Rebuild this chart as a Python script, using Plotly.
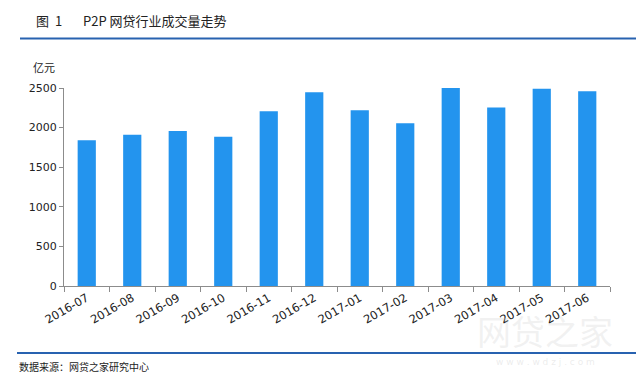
import plotly.graph_objects as go

months = ["2016-07", "2016-08", "2016-09", "2016-10", "2016-11", "2016-12",
          "2017-01", "2017-02", "2017-03", "2017-04", "2017-05", "2017-06"]
volume = [1840, 1910, 1958, 1886, 2207, 2445, 2220, 2055, 2505, 2255, 2492, 2458]
y_ticks = [0, 500, 1000, 1500, 2000, 2500]

W, H = 636, 383
L, R, T, B = 64, 26, 88, 97
pw, ph = W - L - R, H - T - B

def px(x):
    return (x - L) / pw

def py(y):
    return (H - B - y) / ph

num_font = "DejaVu Sans, Verdana, sans-serif"
cjk_font = "Noto Sans CJK SC, sans-serif"

fig = go.Figure(go.Bar(x=months, y=volume, marker=dict(color="#2394ee", line=dict(width=0)), width=0.4))

fig.update_layout(
    width=W, height=H,
    margin=dict(l=L, r=R, t=T, b=B),
    paper_bgcolor="white", plot_bgcolor="white",
    showlegend=False,
    xaxis=dict(type="category", tickangle=-30, tickson="boundaries", ticks="outside", ticklen=5,
               tickcolor="#8c8c8c", showline=True, linecolor="#8c8c8c", linewidth=1, showgrid=False,
               tickfont=dict(family=num_font, size=11.5, color="#222")),
    yaxis=dict(range=[0, 2500], tickvals=y_ticks, ticks="outside", ticklen=4, tickcolor="#8c8c8c",
               showline=True, linecolor="#8c8c8c", linewidth=1, showgrid=False, zeroline=False,
               tickfont=dict(family=num_font, size=11, color="#222")),
)

shapes = [
    dict(type="line", xref="paper", yref="paper", x0=px(20), x1=px(636), y0=py(38.5), y1=py(38.5),
         line=dict(color="#2862b0", width=2)),
    dict(type="line", xref="paper", yref="paper", x0=px(17), x1=px(636), y0=py(353), y1=py(353),
         line=dict(color="#2862b0", width=2)),
]
fig.update_layout(shapes=shapes)

ann = [
    dict(text="图", x=px(34), y=py(20), xanchor="left", yanchor="middle",
         font=dict(family=cjk_font, size=13, color="#222")),
    dict(text="1", x=px(53), y=py(20), xanchor="left", yanchor="middle",
         font=dict(family=cjk_font, size=13, color="#222")),
    dict(text="P2P 网贷行业成交量走势", x=px(81), y=py(20), xanchor="left", yanchor="middle",
         font=dict(family=cjk_font, size=13, color="#222")),
    dict(text="亿元", x=px(31), y=py(67), xanchor="left", yanchor="middle",
         font=dict(family=cjk_font, size=11, color="#222")),
    dict(text="数据来源：网贷之家研究中心", x=px(17), y=py(366), xanchor="left", yanchor="middle",
         font=dict(family=cjk_font, size=10, color="#222")),
    dict(text="网贷之家", x=px(545), y=py(330), xanchor="center", yanchor="middle",
         font=dict(family=cjk_font, size=34, color="rgba(200,200,200,0.25)")),
    dict(text="w w w . w d z j . c o m", x=px(545), y=py(362), xanchor="center", yanchor="middle",
         font=dict(family=num_font, size=9, color="rgba(200,200,200,0.35)")),
]
for a in ann:
    a.update(xref="paper", yref="paper", showarrow=False)
fig.update_layout(annotations=ann)

fig.write_html("out.html")
